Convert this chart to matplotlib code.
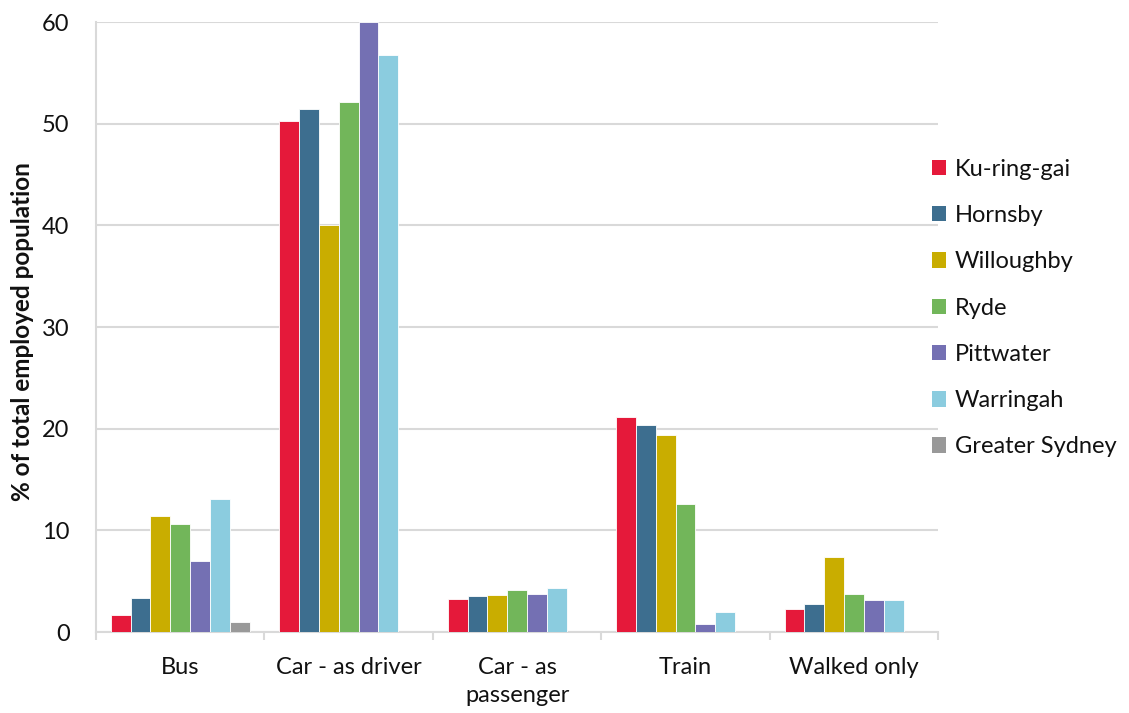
import numpy as np
import matplotlib
matplotlib.use("Agg")
import matplotlib.pyplot as plt
from matplotlib.patches import Patch

plt.rcParams['font.family'] = ['Lato', 'DejaVu Sans']

categories = ["Bus", "Car - as driver", "Car - as\npassenger", "Train", "Walked only"]
series_names = ["Ku-ring-gai", "Hornsby", "Willoughby", "Ryde", "Pittwater",
                "Warringah", "Greater Sydney"]

ku_ring_gai = [1.7, 50.3, 3.2, 21.1, 2.25]
hornsby = [3.3, 51.45, 3.5, 20.4, 2.8]
willoughby = [11.4, 40.0, 3.6, 19.4, 7.4]
ryde = [10.6, 52.1, 4.15, 12.6, 3.75]
pittwater = [7.0, 60.0, 3.7, 0.75, 3.1]
warringah = [13.1, 56.8, 4.3, 1.95, 3.15]
greater_sydney = [1.0, np.nan, np.nan, np.nan, np.nan]

series_values = [ku_ring_gai, hornsby, willoughby, ryde, pittwater, warringah,
                 greater_sydney]
colors = ["#E5193A", "#3D6E8F", "#C9AD00", "#72B65A", "#7470B3", "#8BCCDF",
          "#999999"]

y_ticks = [0, 10, 20, 30, 40, 50, 60]

fig = plt.figure(figsize=(11.29, 7.13), dpi=100)
ax = fig.add_axes([0.085, 0.1136, 0.746, 0.8555])

n = len(series_names)
bar_w = 1.0 / (n + 1.5)
x = np.arange(len(categories))
for i, (vals, col) in enumerate(zip(series_values, colors)):
    offs = (i - (n - 1) / 2) * bar_w
    ax.bar(x + offs, vals, width=bar_w, color=col, edgecolor="white",
           linewidth=0.6, zorder=3)

grid_col = "#D9D9D9"
ax.set_xlim(-0.5, len(categories) - 0.5)
ax.set_ylim(0, 60)
ax.set_yticks(y_ticks)
ax.yaxis.grid(True, color=grid_col, linewidth=1.5, zorder=0)
ax.set_axisbelow(True)

for s in ["top", "right"]:
    ax.spines[s].set_visible(False)
ax.spines["left"].set_color(grid_col)
ax.spines["left"].set_linewidth(1.5)
ax.spines["bottom"].set_color(grid_col)
ax.spines["bottom"].set_linewidth(1.5)

ax.set_xticks(x)
ax.set_xticklabels(categories, fontsize=17, linespacing=1.4, color="#111111")
ax.set_xticks(np.arange(len(categories) + 1) - 0.5, minor=True)
ax.tick_params(axis="x", which="major", length=0, pad=18)
ax.tick_params(axis="x", which="minor", length=6, width=1.5, color=grid_col,
               direction="out")
ax.tick_params(axis="y", length=0, pad=19, labelsize=17, labelcolor="#111111")

fig.text(0.0195, 0.535, "% of total employed population", rotation=90,
         fontsize=17.5, fontweight="bold", ha="center", va="center",
         color="#111111")

handles = [Patch(facecolor=c, edgecolor="none") for c in colors]
fig.legend(handles, series_names, loc="upper left",
           bbox_to_anchor=(0.8065, 0.807), frameon=False, fontsize=17,
           handlelength=0.62, handleheight=0.62, handletextpad=0.35,
           labelspacing=1.07, labelcolor="#111111")

fig.savefig("out.png", dpi=100)
